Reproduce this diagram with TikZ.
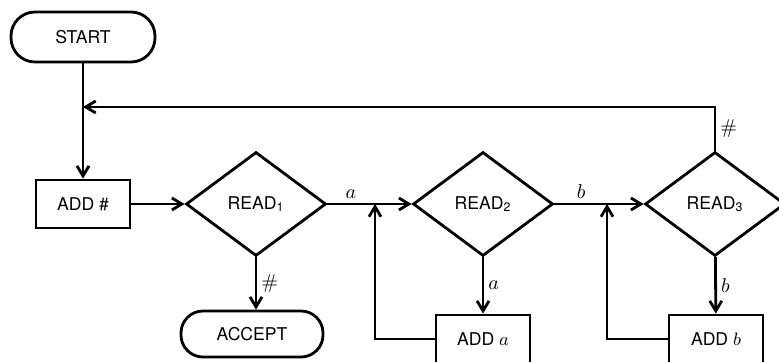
\documentclass[tikz,border=0pt]{standalone}
\usepackage{fontspec}
\setsansfont{TeX Gyre Heros}
\usetikzlibrary{shapes.geometric,arrows.meta}

\begin{document}
\begin{tikzpicture}[x=0.5pt,y=-0.5pt,line width=1.4pt,
    >={Straight Barb[length=5pt,width=6pt]},
    every node/.style={font=\sffamily\fontsize{8.8}{10}\selectfont},
    term/.style={draw,rounded corners=12pt,minimum width=72pt,minimum height=25pt},
    box/.style={draw,minimum width=47pt,minimum height=24pt},
    test/.style={draw,diamond,minimum width=70pt,minimum height=52pt,inner sep=0pt},
    lbl/.style={font=\normalsize,inner sep=2pt}]
  \useasboundingbox (0,0) rectangle (779,362);
  % boxes
  \node[term] (start) at (83,37) {START};
  \node[box] (addh) at (83,204) {ADD \#};
  \node[test] (read1) at (256,204) {READ\textsubscript{1}};
  \node[term,minimum width=71pt,minimum height=23pt,rounded corners=11pt] (accept) at (252,334) {ACCEPT};
  \node[test] (read2) at (483,204) {READ\textsubscript{2}};
  \node[box] (adda) at (483,339) {ADD $a$};
  \node[test] (read3) at (715,204) {READ\textsubscript{3}};
  \node[box] (addb) at (716,339) {ADD $b$};
  \coordinate (back) at (83,107);
  \coordinate (ja) at (375,204);
  \coordinate (jb) at (607,204);
  % connectors
  \draw[->] (start) -- (addh);
  \draw[->] (read3.north) -- node[lbl,right]{$\#$} (read3.north |- back) -- (back);
  \draw[->] (addh) -- (read1);
  \draw[->] (read1) -- node[lbl,pos=0.28,above]{$a$} (read2);
  \draw[->] (read1.south) -- node[lbl,right]{$\#$} (read1.south |- accept.north);
  \draw[->] (read2) -- node[lbl,right]{$a$} (adda);
  \draw[->] (adda.west) -| (ja);
  \draw[->] (read2) -- node[lbl,pos=0.3,above]{$b$} (read3);
  \draw[->] (read3) -- node[lbl,right]{$b$} (addb);
  \draw[->] (addb.west) -| (jb);
\end{tikzpicture}
\end{document}
